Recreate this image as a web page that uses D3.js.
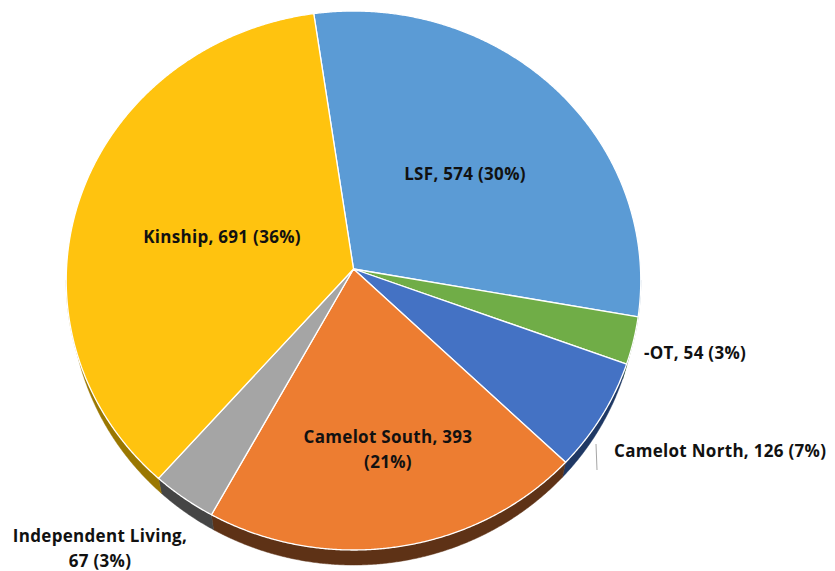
<!DOCTYPE html>
<html>
<head>
<meta charset="utf-8">
<script src="https://cdn.jsdelivr.net/npm/d3@7"></script>
<style>
	body { margin: 0; background: #fff; }
	svg { display: block; }
	text { font-family: "Open Sans", Lato, sans-serif; font-weight: bold; font-size: 17px; letter-spacing: 0.3px; fill: #111; }
</style>
</head>
<body>
<div id="wrapper"></div>
<script>
// data
const categories = ["LSF", "-OT", "Camelot North", "Camelot South", "Independent Living", "Kinship"];
const values = [574, 54, 126, 393, 67, 691];
const percents = ["30%", "3%", "7%", "21%", "3%", "36%"];

const topColors = ["#5b9bd5", "#70ad47", "#4472c4", "#ed7d31", "#a5a5a5", "#ffc30f"];
const sideColors = ["#2f5d86", "#3e6627", "#1f3864", "#5e3216", "#454545", "#9a7700"];

// where excel put the labels (center x, baseline y)
const labelLayout = {
	"LSF": { x: 465, y: 180 },
	"-OT": { x: 644, y: 359, anchor: "start" },
	"Camelot North": { x: 614, y: 457, anchor: "start" },
	"Camelot South": { x: 388, y: 443, split: true },
	"Independent Living": { x: 100, y: 542, split: true, comma: true },
	"Kinship": { x: 222, y: 243 }
};

const width = 835;
const height = 571;

// tilted pie: ellipse with a bit of perspective
const cx = 353.5, cy = 269;
const rx = 287, ry = 269;
const k = 0.0427; //perspective
const depth = 15;
const shrink = 0.985; //bottom rim sits a touch further away
const startDeg = -8.3;

function proj(a, r) {
	const u = r * Math.sin(a);
	const v = r * Math.cos(a);
	const s = 1 + k * v;
	return [cx + rx * u / s, cy - ry * v / s];
}

function rim(a0, a1, dy) {
	const n = Math.max(2, Math.ceil(Math.abs(a1 - a0) / 0.005));
	const pts = [];
	for (let i = 0; i <= n; i++) {
		const p = proj(a0 + (a1 - a0) * i / n, 1);
		if (dy > 0) p[0] = cx + (p[0] - cx) * shrink;
		pts.push([p[0], p[1] + dy]);
	}
	return pts;
}

const pie = d3.pie()
	.sort(null)
	.value(d => d.value)
	.startAngle(startDeg * Math.PI / 180)
	.endAngle((startDeg + 360) * Math.PI / 180);

const dataset = categories.map((c, i) => ({ name: c, value: values[i], pct: percents[i], i: i }));
const arcs = pie(dataset);

const canvas = d3.select("#wrapper")
	.append("svg")
	.attr("width", width)
	.attr("height", height);

const line = d3.line();

// side walls, only the front half shows
const frontLo = Math.acos(-k);
const frontHi = 2 * Math.PI - Math.acos(-k);

canvas.selectAll(".side")
	.data(arcs.filter(d => d.endAngle > frontLo && d.startAngle < frontHi))
	.enter().append("path")
	.attr("class", "side")
	.attr("d", function(d) {
		const a0 = Math.max(d.startAngle, frontLo);
		const a1 = Math.min(d.endAngle, frontHi);
		const top = rim(a0, a1, 0);
		const bottom = rim(a0, a1, depth).reverse();
		return line(top.concat(bottom)) + "Z";
	})
	.attr("fill", d => sideColors[d.data.i])
	.attr("stroke", d => sideColors[d.data.i])
	.attr("stroke-width", 0.5);

// top faces
canvas.selectAll(".slice")
	.data(arcs)
	.enter().append("path")
	.attr("class", "slice")
	.attr("d", function(d) {
		const pts = [[cx, cy]].concat(rim(d.startAngle, d.endAngle, 0));
		return line(pts) + "Z";
	})
	.attr("fill", d => topColors[d.data.i])
	.attr("stroke", "#fff")
	.attr("stroke-width", 1.3)
	.attr("stroke-linejoin", "round");

// leader line for Camelot North
canvas.append("line")
	.attr("x1", 596).attr("y1", 444)
	.attr("x2", 597).attr("y2", 470)
	.attr("stroke", "#a6a6a6")
	.attr("stroke-width", 1);

// labels
arcs.forEach(function(d) {
	const L = labelLayout[d.data.name];
	let lines;
	if (L.split) {
		if (L.comma) lines = [d.data.name + ",", d.data.value + " (" + d.data.pct + ")"];
		else lines = [d.data.name + ", " + d.data.value, "(" + d.data.pct + ")"];
	} else {
		lines = [d.data.name + ", " + d.data.value + " (" + d.data.pct + ")"];
	}
	const t = canvas.append("text")
		.attr("x", L.x)
		.attr("y", L.y)
		.attr("text-anchor", L.anchor || "middle");
	lines.forEach(function(s, j) {
		t.append("tspan")
			.attr("x", L.x)
			.attr("dy", j === 0 ? 0 : 25)
			.text(s);
	});
});
</script>
</body>
</html>
